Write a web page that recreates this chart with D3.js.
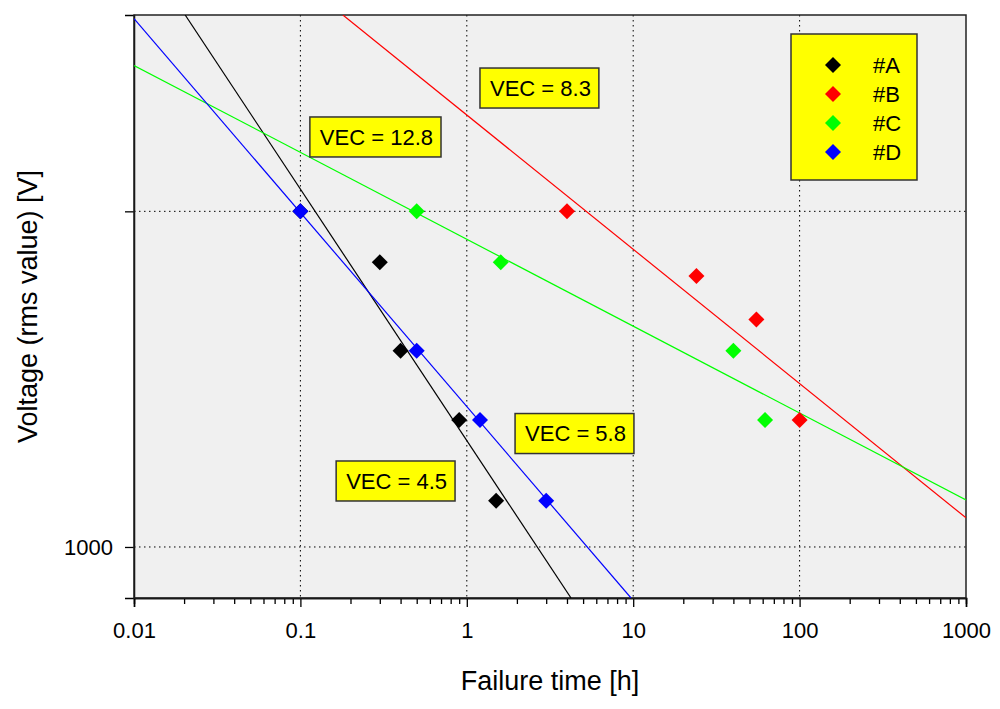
<!DOCTYPE html>
<html>
<head>
<meta charset="utf-8">
<script src="https://cdn.jsdelivr.net/npm/d3@7"></script>
<style>
  body { margin: 0; background: #fff; }
  text { font-family: "Liberation Sans", Arial, sans-serif; fill: #000; }
</style>
</head>
<body>
<div id="chart"></div>
<script>
// series (failure time [h], voltage [V])
const seriesNames = ["#A", "#B", "#C", "#D"]
const seriesColors = ["#000000", "#ff0000", "#00ff00", "#0000ff"]
const timesA = [0.1, 0.3, 0.4, 0.9, 1.5]
const voltsA = [2000, 1800, 1500, 1300, 1100]
const timesB = [4, 24, 55, 100]
const voltsB = [2000, 1750, 1600, 1300]
const timesC = [0.5, 1.6, 40, 62]
const voltsC = [2000, 1800, 1500, 1300]
const timesD = [0.1, 0.5, 1.2, 3]
const voltsD = [2000, 1500, 1300, 1100]

const fitA = [[0.0203, 3000], [4.23, 900]]
const fitB = [[0.18, 3000], [1000, 1062]]
const fitC = [[0.01, 2703], [1000, 1102]]
const fitD = [[0.01, 2978], [9.7, 900]]

// VEC labels, anchored at (time of left edge, voltage of centre)
const vecLabels = ["VEC = 8.3", "VEC = 12.8", "VEC = 5.8", "VEC = 4.5"]
const vecAnchors = [[1.2, 2580], [0.114, 2332], [1.95, 1264], [0.164, 1146]]

const xTicks = [0.01, 0.1, 1, 10, 100, 1000]
const yTicks = [1000, 2000]
const yTickLabels = ["1000", ""]

const width = 1000
const height = 709
const margin = {top: 15, right: 34, bottom: 111, left: 134}
const innerW = width - margin.left - margin.right
const innerH = height - margin.top - margin.bottom

const svg = d3.select("#chart").append("svg").attr("width", width).attr("height", height)
const g = svg.append("g").attr("transform", `translate(${margin.left},${margin.top})`)

const x = d3.scaleLog().domain([0.01, 1000]).range([0, innerW])
const y = d3.scaleLog().domain([900, 3000]).range([innerH, 0])

g.append("rect").attr("width", innerW).attr("height", innerH).attr("fill", "#f0f0f0")

svg.append("clipPath").attr("id", "clip").append("rect").attr("width", innerW).attr("height", innerH)

// grid
g.selectAll(".gx").data(xTicks.slice(1, -1)).enter().append("line")
  .attr("x1", d => x(d)).attr("x2", d => x(d)).attr("y1", 0).attr("y2", innerH)
  .attr("stroke", "#000").attr("stroke-dasharray", "1.5,3.5")
g.selectAll(".gy").data(yTicks).enter().append("line")
  .attr("y1", d => y(d)).attr("y2", d => y(d)).attr("x1", 0).attr("x2", innerW)
  .attr("stroke", "#000").attr("stroke-dasharray", "1.5,3.5")

// axes
const minorX = []
for (let e = -2; e < 3; e++) for (let k = 2; k < 10; k++) minorX.push(k * Math.pow(10, e))

const xAxisGroup = g.append("g").attr("transform", `translate(0,${innerH})`)
xAxisGroup.call(d3.axisBottom(x).tickValues(minorX).tickSize(6).tickFormat(""))
xAxisGroup.call(g2 => g2.selectAll(".tick line").attr("stroke-width", 1.3))
const xMajor = g.append("g").attr("transform", `translate(0,${innerH})`)
  .call(d3.axisBottom(x).tickValues(xTicks).tickSize(9).tickPadding(15).tickFormat(d3.format("~g")))
xMajor.selectAll("text").attr("font-size", 22)
xMajor.selectAll("line").attr("stroke-width", 1.3)

const yAxisGroup = g.append("g")
  .call(d3.axisLeft(y).tickValues(yTicks).tickSize(9).tickPadding(12).tickFormat((d, i) => yTickLabels[i]))
yAxisGroup.selectAll("text").attr("font-size", 22)
yAxisGroup.selectAll("line").attr("stroke-width", 1.3)
g.selectAll(".domain").attr("stroke-width", 1.5)

// frame
g.append("rect").attr("width", innerW).attr("height", innerH)
  .attr("fill", "none").attr("stroke", "#222").attr("stroke-width", 1.5)

// fit lines
const fits = [fitA, fitB, fitC, fitD]
const line = d3.line().x(d => x(d[0])).y(d => y(d[1]))
g.append("g").attr("clip-path", "url(#clip)").selectAll("path").data(fits).enter().append("path")
  .attr("d", line).attr("fill", "none")
  .attr("stroke", (d, i) => seriesColors[i]).attr("stroke-width", 1.2)

// labels
const lab = g.selectAll(".vec").data(vecLabels).enter().append("g")
  .attr("transform", (d, i) => `translate(${x(vecAnchors[i][0])},${y(vecAnchors[i][1])})`)
lab.append("text").attr("x", 10).attr("dy", "0.36em").attr("font-size", 22).text(d => d)
lab.each(function() {
  const sel = d3.select(this)
  const bb = sel.select("text").node().getBBox()
  sel.insert("rect", "text").attr("x", 0).attr("y", -20)
    .attr("width", bb.width + 18).attr("height", 40)
    .attr("fill", "#ffff00").attr("stroke", "#333").attr("stroke-width", 1.5)
})

// markers
const times = [timesA, timesB, timesC, timesD]
const volts = [voltsA, voltsB, voltsC, voltsD]
const diamond = d3.symbol().type(d3.symbolSquare).size(128)
times.forEach((ts, s) => {
  g.append("g").selectAll("path").data(ts).enter().append("path")
    .attr("d", diamond)
    .attr("transform", (d, i) => `translate(${x(d)},${y(volts[s][i])}) rotate(45)`)
    .attr("fill", seriesColors[s])
})

// legend
const legend = svg.append("g").attr("transform", "translate(791,34)")
legend.append("rect").attr("width", 126).attr("height", 146)
  .attr("fill", "#ffff00").attr("stroke", "#333").attr("stroke-width", 1.5)
const items = legend.selectAll(".item").data(seriesNames).enter().append("g")
  .attr("transform", (d, i) => `translate(0,${31 + i * 29})`)
items.append("path").attr("d", diamond).attr("transform", "translate(42,0) rotate(45)")
  .attr("fill", (d, i) => seriesColors[i])
items.append("text").attr("x", 82).attr("dy", "0.36em").attr("font-size", 22).text(d => d)

// axis titles
svg.append("text").attr("x", margin.left + innerW / 2).attr("y", 690)
  .attr("text-anchor", "middle").attr("font-size", 27).text("Failure time [h]")
svg.append("text").attr("transform", `translate(37,${margin.top + innerH / 2}) rotate(-90)`)
  .attr("text-anchor", "middle").attr("font-size", 27).text("Voltage (rms value) [V]")
</script>
</body>
</html>
